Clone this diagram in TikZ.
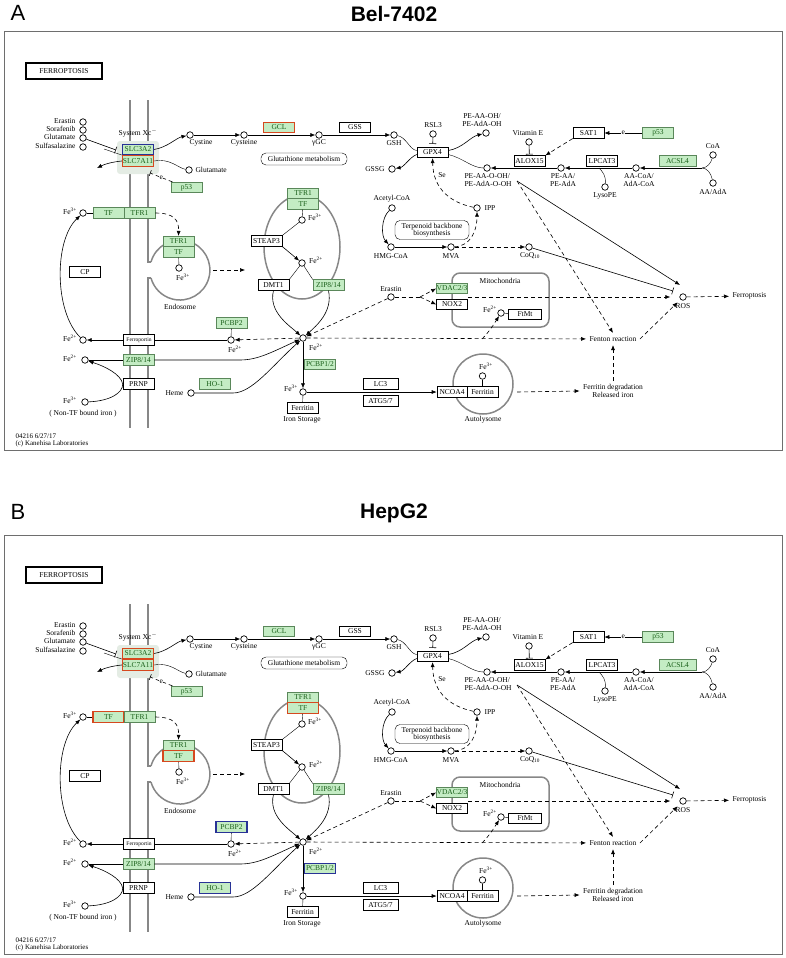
\documentclass[tikz,border=0pt]{standalone}
\usepackage{fontspec}
\setmainfont{Liberation Serif}
\newfontfamily\headfont{Liberation Sans}
\usetikzlibrary{arrows.meta,positioning}

\definecolor{kgreen}{RGB}{196,236,196}
\definecolor{kgreenline}{RGB}{90,135,90}
\definecolor{ktext}{RGB}{25,95,25}
\definecolor{hlred}{RGB}{214,72,30}
\definecolor{hlblue}{RGB}{40,50,150}
\definecolor{membgrey}{RGB}{135,135,135}
\definecolor{glow}{RGB}{228,236,228}
\definecolor{framegrey}{RGB}{110,110,110}

\newcommand{\kfont}{\fontsize{7.5}{8.5}\selectfont}
\newcommand{\ktight}{\fontsize{7.5}{7.5}\selectfont}
\newcommand{\gfont}{\fontsize{7.5}{8}\selectfont}
\newcommand{\sfont}{\fontsize{5.5}{6}\selectfont}
\newcommand{\ffont}{\fontsize{7}{7.5}\selectfont}

\tikzset{
    cpd/.style={circle, draw, line width=0.7pt, minimum size=6.5pt, inner sep=0pt, fill=white},
    gen/.style={draw, line width=0.6pt, minimum width=31pt, minimum height=10.5pt, inner sep=0pt, fill=white, font=\gfont},
    ggen/.style={gen, fill=kgreen, draw=kgreenline, text=ktext},
    redbox/.style={draw=hlred, line width=1.4pt},
    bluebox/.style={draw=hlblue, line width=1.4pt},
    arr/.style={-{Latex[length=5pt,width=4pt]}, line width=0.6pt},
    dline/.style={dash pattern=on 4pt off 3pt, line width=0.6pt},
    darr/.style={arr, dline},
    inh/.style={-{Bar[width=7pt]}, line width=0.6pt},
    memb/.style={line width=2.4pt, draw=membgrey},
    organ/.style={line width=1.5pt, draw=membgrey},
    hlSLCa/.style={}, hlSLCb/.style={}, hlGCL/.style={},
    hlTFm/.style={}, hlTFe/.style={}, hlTFc/.style={},
    hlPCBPa/.style={}, hlPCBPb/.style={}, hlHO/.style={},
}

\newcommand{\ferropanel}{%
    % frame, membrane and compartments
    \draw[framegrey, line width=0.8pt] (4,31) rectangle (782,450);
    \node[draw, line width=1.1pt, minimum width=76pt, minimum height=16pt, inner sep=0pt] (map) at (64,71) {FERROPTOSIS};
    \draw[memb] (130,100) -- (130,428);
    \draw[memb] (148,100) -- (148,262) -- (151,262);
    \draw[memb] (151,278) -- (148,278) -- (148,428);
    \draw[organ] (151,262) arc[start angle=-164.5, end angle=164.5, radius=30];
    \draw[organ] (302,247) ellipse[x radius=38, y radius=52];
    \draw[organ] (483,384) circle[radius=30];
    \draw[organ, rounded corners=8pt] (452,273) rectangle (549,327);
    \fill[glow, rounded corners=3pt] (117,141) rectangle (159,174);
    % system xc-
    \node[ggen, hlSLCa] (slca) at (138,149.5) {SLC3A2};
    \node[ggen, hlSLCb] (slcb) at (138,161) {SLC7A11};
    \node (xct) at (138,133) {System Xc$^-$};
    \node[cpd] (era) at (83,122) {};
    \node[cpd] (sor) at (83,130) {};
    \node[cpd] (glua) at (83,138) {};
    \node[cpd] (sul) at (83,147) {};
    \node[anchor=east] (erat) at (79,121) {Erastin};
    \node[anchor=east] (sort) at (79,129) {Sorafenib};
    \node[anchor=east] (gluat) at (79,137) {Glutamate};
    \node[anchor=east] (sult) at (79,146) {Sulfasalazine};
    \coordinate (xcbar) at (116,150);
    \coordinate (xcin) at (104,149);
    \draw[inh] (glua) -- (xcbar);
    \draw (xcin) -- (slcb.north west);
    \coordinate (gluo) at (97,168);
    \draw[arr] (slcb.west) .. controls (112,162) and (105,164) .. (gluo);
    \node[cpd] (cysa) at (190,135) {};
    \node (cysat) at (201,143) {Cystine};
    \draw[arr] (slca.east) .. controls (168,147) and (176,138) .. (cysa);
    \node[cpd] (glub) at (189,170) {};
    \node[anchor=west] (glubt) at (192,170) {Glutamate};
    \draw (slcb.east) .. controls (170,158) and (178,168) .. (glub);
    \node[ggen] (p53a) at (186.5,187.5) {p53};
    \coordinate (xcp) at (150,173);
    \draw[dline, -{Bar[width=6pt]}] (p53a) -- node[fill=white, inner sep=0.5pt] (p53ae) {e} (xcp);
    % glutathione
    \node[cpd] (cysb) at (244,135) {};
    \node (cysbt) at (244,143) {Cysteine};
    \draw[arr] (cysa) -- (cysb);
    \node[ggen, hlGCL] (gcl) at (279,127.5) {GCL};
    \node[cpd] (ygc) at (319,135) {};
    \node (ygct) at (319,143) {γGC};
    \draw[arr] (cysb) -- (ygc);
    \node[gen] (gss) at (355,127.5) {GSS};
    \node[cpd] (gsh) at (394,135) {};
    \node (gsht) at (394,143) {GSH};
    \draw[arr] (ygc) -- (gsh);
    \node[draw, rounded corners=5pt, minimum width=86pt, minimum height=12pt, inner sep=0pt] (glumet) at (304,159) {Glutathione metabolism};
    \node[gen] (gpx4) at (432.5,152.5) {GPX4};
    \draw (gsh) .. controls (406,137) and (410,150) .. ([yshift=2pt]gpx4.west);
    \node[cpd] (gssg) at (392,169) {};
    \node[anchor=east] (gssgt) at (388,169) {GSSG};
    \draw[arr] ([yshift=-2pt]gpx4.west) .. controls (410,157) and (404,167) .. (gssg);
    \node[cpd] (rsl3) at (433,134) {};
    \node (rsl3t) at (433,125) {RSL3};
    \draw[inh, shorten >=3pt] (rsl3) -- (gpx4);
    \node[cpd] (peoh) at (486,133) {};
    \node[align=center, font=\ktight] (peoht) at (482,120) {PE-AA-OH/\\PE-AdA-OH};
    \draw[arr] ([yshift=2pt]gpx4.east) .. controls (463,148) and (470,137) .. (peoh);
    \node[cpd] (peooh) at (487,168) {};
    \node[align=left, anchor=west, font=\ktight] (peooht) at (461,180) {PE-AA-O-OH/\\PE-AdA-O-OH};
    \draw ([yshift=-2pt]gpx4.east) .. controls (463,158) and (472,168) .. (peooh);
    % mevalonate
    \node[cpd] (ipp) at (477,208) {};
    \node[anchor=west] (ippt) at (481,208) {IPP};
    \draw[darr] (ipp) .. controls (452,203) and (433,190) .. (gpx4);
    \node (set) at (442,175) {Se};
    \node[cpd] (acoa) at (392,208) {};
    \node (acoat) at (392,199) {Acetyl-CoA};
    \node[cpd] (hmg) at (391,247) {};
    \node (hmgt) at (391,256) {HMG-CoA};
    \draw[arr] (acoa) .. controls (381,218) and (381,236) .. (hmg);
    \node[draw, rounded corners=5pt, align=center, minimum width=74pt, minimum height=19pt, inner sep=0pt, font=\ktight] (terp) at (432,230) {Terpenoid backbone\\biosynthesis};
    \node[cpd] (mva) at (451,247) {};
    \node (mvat) at (451,256) {MVA};
    \draw[arr] (hmg) -- (mva);
    \draw[darr] (mva) .. controls (470,246) and (477,232) .. (ipp);
    \node[cpd] (coq) at (529,247) {};
    \node (coqt) at (530,256) {CoQ\textsubscript{10}};
    \draw[darr] (mva) -- (coq);
    % lipid branch
    \node[gen] (sat1) at (588.5,133) {SAT1};
    \node[ggen] (p53b) at (658,133) {p53};
    \draw[arr] (p53b) -- node[fill=white, inner sep=0.5pt] (p53be) {e} (sat1);
    \node[cpd] (vite) at (529,142) {};
    \node (vitet) at (528,133) {Vitamin E};
    \node[gen] (alox) at (529.5,161) {ALOX15};
    \draw[inh, shorten >=1pt] (vite) -- (alox);
    \draw[darr] (sat1.south west) -- (alox.north east);
    \node[gen] (lpcat) at (602,161) {LPCAT3};
    \node[ggen, minimum width=37pt] (acsl) at (677.5,161) {ACSL4};
    \node[cpd] (peaa) at (561,168) {};
    \node[align=center, font=\ktight] (peaat) at (563,180) {PE-AA/\\PE-AdA};
    \node[cpd] (aacoa) at (636,168) {};
    \node[align=center, font=\ktight] (aacoat) at (639,180) {AA-CoA/\\AdA-CoA};
    \node[cpd] (coa) at (713,155) {};
    \node (coat) at (713,146) {CoA};
    \node[cpd] (aaada) at (713,183) {};
    \node (aaadat) at (713,192) {AA/AdA};
    \coordinate (acfork) at (702,168);
    \draw (coa) .. controls (711,163) and (707,168) .. (acfork);
    \draw (aaada) .. controls (711,173) and (707,168) .. (acfork);
    \draw[arr] (acfork) -- (aacoa);
    \draw[arr] (aacoa) -- (peaa);
    \draw[arr] (peaa) -- (peooh);
    \node[cpd] (lyso) at (605,187) {};
    \node (lysot) at (605,196) {LysoPE};
    \coordinate (lpcin) at (599,168);
    \draw (lpcin) .. controls (603,172) and (606,176) .. (lyso);
    % ROS and ferroptosis
    \node[cpd] (ros) at (683,297) {};
    \node (rost) at (683,306) {ROS};
    \node[anchor=west] (ferrop) at (729,296) {Ferroptosis};
    \draw[darr] (ros) -- (ferrop);
    \node (fenton) at (613,339) {Fenton reaction};
    \coordinate (pelo) at (517,181);
    \coordinate (rosup) at (680,285);
    \coordinate (rosbar) at (673,291);
    \coordinate (mitoout) at (468,297);
    \draw[arr] (pelo) -- (rosup);
    \draw[darr] (pelo) -- (fenton.north);
    \draw[inh] (coq) -- (rosbar);
    \draw[darr, shorten >=9pt] (mitoout) -- (ros);
    \draw[darr, shorten >=4pt] (fenton.east) -- (ros);
    % mitochondria
    \node (mitot) at (500,281) {Mitochondria};
    \node[ggen] (vdac) at (452,288.5) {VDAC2/3};
    \node[gen] (nox2) at (452,304.5) {NOX2};
    \node[cpd] (era2) at (391,297) {};
    \node (era2t) at (391,289) {Erastin};
    \coordinate (erafork) at (420,297);
    \draw[dline] (era2) -- (erafork);
    \draw[darr] (erafork) -- (vdac.west);
    \draw[darr] (erafork) -- (nox2.west);
    \node[cpd] (fe2m) at (501,313) {};
    \node (fe2mt) at (490,309) {Fe\textsuperscript{2+}};
    \node[gen, minimum width=33pt] (ftmt) at (525,314.5) {FtMt};
    \draw (fe2m) -- (ftmt);
    \coordinate (mitoin) at (482,339);
    \draw[darr] (mitoin) .. controls (489,332) and (494,324) .. (fe2m);
    % cell interior
    \node[ggen] (tfr1c) at (303,193.5) {TFR1};
    \node[ggen, hlTFc] (tfc) at (303,204) {TF};
    \node[cpd] (fe3c) at (302,220) {};
    \node (fe3ct) at (315,217) {Fe\textsuperscript{3+}};
    \draw (tfc) -- (fe3c);
    \node[gen] (steap) at (266.5,241) {STEAP3};
    \draw (fe3c) -- (steap.north east);
    \node[cpd] (fe2u) at (302,263) {};
    \node (fe2ut) at (316,260) {Fe\textsuperscript{2+}};
    \draw[arr] (steap.south east) -- (fe2u);
    \node[gen] (dmt1) at (273.5,285) {DMT1};
    \node[ggen] (zipc) at (328.5,285) {ZIP8/14};
    \draw (fe2u) -- (dmt1.north east);
    \draw (fe2u) -- (zipc.north west);
    \node[cpd] (fe2c) at (303,338) {};
    \node (fe2ct) at (316,347) {Fe\textsuperscript{2+}};
    \draw[arr] (dmt1.south) .. controls (268,312) and (290,326) .. (fe2c);
    \draw[arr] (zipc.south) .. controls (333,312) and (316,326) .. (fe2c);
    \draw[darr] (era2) -- (fe2c);
    \draw[darr] (fe2c) -- (fenton);
    \node[ggen, hlPCBPa] (pcbp1) at (320,364.5) {PCBP1/2};
    \node[cpd] (fe3s) at (303,392) {};
    \node (fe3st) at (291,388) {Fe\textsuperscript{3+}};
    \draw[arr] (fe2c) -- (fe3s);
    \node[gen] (fer2) at (302.5,408) {Ferritin};
    \node (irst) at (302,420) {Iron Storage};
    \draw (fe3s) -- (fer2);
    \node[gen, minimum width=35pt] (lc3) at (380.5,384) {LC3};
    \node[gen, minimum width=35pt] (atg) at (380.5,401) {ATG5/7};
    \node[gen, minimum width=30pt] (ncoa) at (452,392) {NCOA4};
    \node[gen] (ferr) at (482.5,392) {Ferritin};
    \draw[arr] (fe3s) -- (ncoa);
    \node[cpd] (fe3a) at (482.5,376) {};
    \node (fe3at) at (486,366) {Fe\textsuperscript{3+}};
    \draw (fe3a) -- (ferr);
    \node (autot) at (483,420) {Autolysome};
    \node[align=center, font=\ktight] (ferdeg) at (613,391) {Ferritin degradation\\Released iron};
    \coordinate (autoout) at (517,392);
    \draw[darr] (autoout) -- (ferdeg.west);
    \draw[darr] (ferdeg) -- (fenton);
    % plasma membrane transport
    \node[cpd] (fe3o) at (83,213) {};
    \node (fe3ot) at (70,211) {Fe\textsuperscript{3+}};
    \node[ggen, hlTFm] (tfm) at (108.5,213) {TF};
    \node[ggen] (tfr1m) at (139.5,213) {TFR1};
    \draw (fe3o) -- (tfm);
    \node[ggen] (tfr1e) at (178.5,241.5) {TFR1};
    \node[ggen, hlTFe] (tfe) at (178.5,252) {TF};
    \draw[darr] (tfr1m.east) .. controls (174,213) and (179,220) .. (tfr1e.north);
    \node[cpd] (fe3e) at (179,268) {};
    \node (fe3et) at (183,277) {Fe\textsuperscript{3+}};
    \draw (tfe) -- (fe3e);
    \node (endot) at (180,307) {Endosome};
    \coordinate (endoa) at (213,270);
    \coordinate (endob) at (245,270);
    \draw[darr] (endoa) -- (endob);
    \node[gen] (cp) at (85,272) {CP};
    \node[cpd] (fe2o) at (83,340) {};
    \node (fe2ot) at (70,338) {Fe\textsuperscript{2+}};
    \draw[arr] (fe2o) .. controls (54,312) and (54,240) .. (fe3o);
    \node[gen, font=\sfont] (fpn) at (139,340) {Ferroportin};
    \node[ggen, hlPCBPb] (pcbp2) at (231.5,323) {PCBP2};
    \node[cpd] (fe2p) at (231,340) {};
    \node (fe2pt) at (235,349) {Fe\textsuperscript{2+}};
    \draw (fe2p) -- (pcbp2);
    \draw (fe2p) -- (fpn);
    \draw[arr] (fpn) -- (fe2o);
    \draw[darr] (fe2c) -- (fe2p);
    \node[ggen] (zipm) at (138.5,360) {ZIP8/14};
    \node[cpd] (fe2z) at (85,360) {};
    \node (fe2zt) at (70,358) {Fe\textsuperscript{2+}};
    \draw (fe2z) -- (zipm);
    \coordinate (zipbend) at (240,360);
    \draw[arr] (zipm) -- (zipbend) .. controls (258,360) and (272,352) .. (fe2c);
    \node[gen] (prnp) at (138.5,384) {PRNP};
    \node[cpd] (fe3n) at (85,402) {};
    \node (fe3nt) at (70,400) {Fe\textsuperscript{3+}};
    \node (ntft) at (83,414) {( Non-TF bound iron )};
    \draw[arr] (fe3n) .. controls (110,401) and (123,393) .. (prnp.west) .. controls (121,374) and (104,366) .. (fe2z);
    \node[cpd] (heme) at (191,393) {};
    \node[anchor=east] (hemet) at (187,393) {Heme};
    \node[ggen, hlHO] (ho1) at (215,384) {HO-1};
    \coordinate (hobend) at (233,393);
    \draw[arr] (heme) -- (hobend) .. controls (252,393) and (272,366) .. (fe2c);
    \node[anchor=west, font=\ffont, align=left] (stamp) at (12,440.5) {04216 6/27/17\\(c) Kanehisa Laboratories};
}

\begin{document}
\begin{tikzpicture}[x=1pt, y=-1pt, font=\kfont]
    \useasboundingbox (0,0) rectangle (786,958);
    \node[font=\headfont\fontsize{22}{22}\selectfont] (labA) at (18,13) {A};
    \node[font=\headfont\bfseries\fontsize{21}{21}\selectfont] (titA) at (394,14) {Bel-7402};
    \node[font=\headfont\fontsize{22}{22}\selectfont] (labB) at (18,512) {B};
    \node[font=\headfont\bfseries\fontsize{21}{21}\selectfont] (titB) at (394,513) {HepG2};
    \begin{scope}[name prefix=a-, hlSLCa/.style=bluebox, hlSLCb/.style=redbox, hlGCL/.style=redbox]
        \ferropanel
    \end{scope}
    \begin{scope}[shift={(0,504)}, name prefix=b-, hlSLCa/.style=redbox, hlSLCb/.style=redbox,
        hlTFm/.style=redbox, hlTFe/.style=redbox, hlTFc/.style=redbox,
        hlPCBPa/.style=bluebox, hlPCBPb/.style=bluebox, hlHO/.style=bluebox]
        \ferropanel
    \end{scope}
\end{tikzpicture}
\end{document}
